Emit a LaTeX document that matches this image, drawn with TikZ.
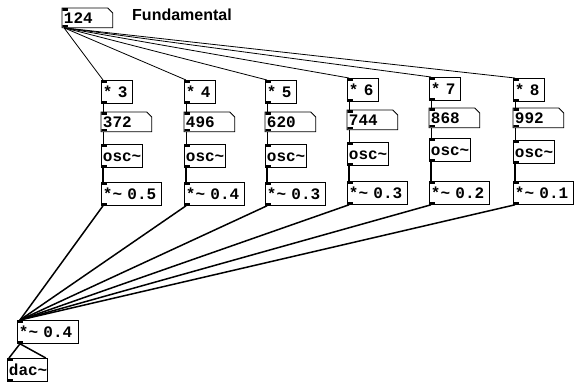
\documentclass[tikz,border=0pt]{standalone}
\usepackage{fontspec}
\newfontfamily\pdfont{Liberation Mono}
\newfontfamily\pdlabelfont{Liberation Sans}
\tikzset{
  pdobj/.style={draw, line width=0.8pt, anchor=north west, inner xsep=1.5pt, inner ysep=0pt,
    minimum height=23pt, text height=11pt, text depth=0pt, align=left,
    font=\pdfont\bfseries\fontsize{16}{16}\selectfont,
    path picture={
      \fill (path picture bounding box.north west) rectangle ++(6pt,-2.5pt);
      \fill (path picture bounding box.south west) rectangle ++(6pt,2.5pt);}},
  mulbox/.style={pdobj, text width=28pt},
  oscbox/.style={pdobj, text width=38pt},
  sigbox/.style={pdobj, text width=57pt},
  numbox/.style={pdobj, draw=none, minimum height=19pt, text width=47pt},
  ctl/.style={line width=0.8pt},
  sig/.style={line width=1.5pt},
}
\begin{document}
\begin{tikzpicture}[x=1pt, y=-1pt]
  \useasboundingbox (0,0) rectangle (583,385);
  % fundamental
  \node[numbox] (fund) at (62,8) {124};
  \node[anchor=base west, inner sep=0pt, font=\pdlabelfont\bfseries\fontsize{16}{16}\selectfont]
    (title) at (132,21) {Fundamental};
  % output
  \node[sigbox, text width=58pt] (mix) at (17,320) {*\textasciitilde~0.4};
  \node[pdobj, text width=37pt] (dac) at (7,358) {dac\textasciitilde};
  % partials
  \foreach \i/\x/\ya/\yb/\yc/\yd/\k/\f/\g in {1/101/80/112/144/182/3/372/0.5,
      2/184/80/112/144/182/4/496/0.4, 3/265/80/112/144/182/5/620/0.3,
      4/347/78/110/142/181/6/744/0.3, 5/429/77/108/138/181/7/868/0.2,
      6/513/78/108/140/181/8/992/0.1} {
    \node[mulbox] (m\i) at (\x,\ya) {*~\k};
    \node[numbox] (n\i) at (\x,\yb) {\f};
    \node[oscbox] (o\i) at (\x,\yc) {osc\textasciitilde};
    \node[sigbox] (s\i) at (\x,\yd) {*\textasciitilde~\g};
    \draw[ctl] ([xshift=2pt]fund.south west) -- ([xshift=2pt]m\i.north west);
    \draw[ctl] ([xshift=2pt]m\i.south west) -- ([xshift=2pt]n\i.north west);
    \draw[ctl] ([xshift=2pt]n\i.south west) -- ([xshift=2pt]o\i.north west);
    \draw[sig] ([xshift=2pt]o\i.south west) -- ([xshift=2pt]s\i.north west);
    \draw[sig] ([xshift=2pt]s\i.south west) -- ([xshift=3pt]mix.north west);
  }
  % number boxes: cut corner
  \foreach \n in {fund,n1,n2,n3,n4,n5,n6}
    \draw[line width=0.8pt] (\n.north west) -- ([xshift=-5pt]\n.north east)
      -- ([yshift=-5pt]\n.north east) -- (\n.south east) -- (\n.south west) -- cycle;
  \draw[sig] ([xshift=3pt]mix.south west) -- ([xshift=2pt]dac.north west);
  \draw[sig] ([xshift=3pt]mix.south west) -- ([xshift=-2pt]dac.north east);
\end{tikzpicture}
\end{document}
